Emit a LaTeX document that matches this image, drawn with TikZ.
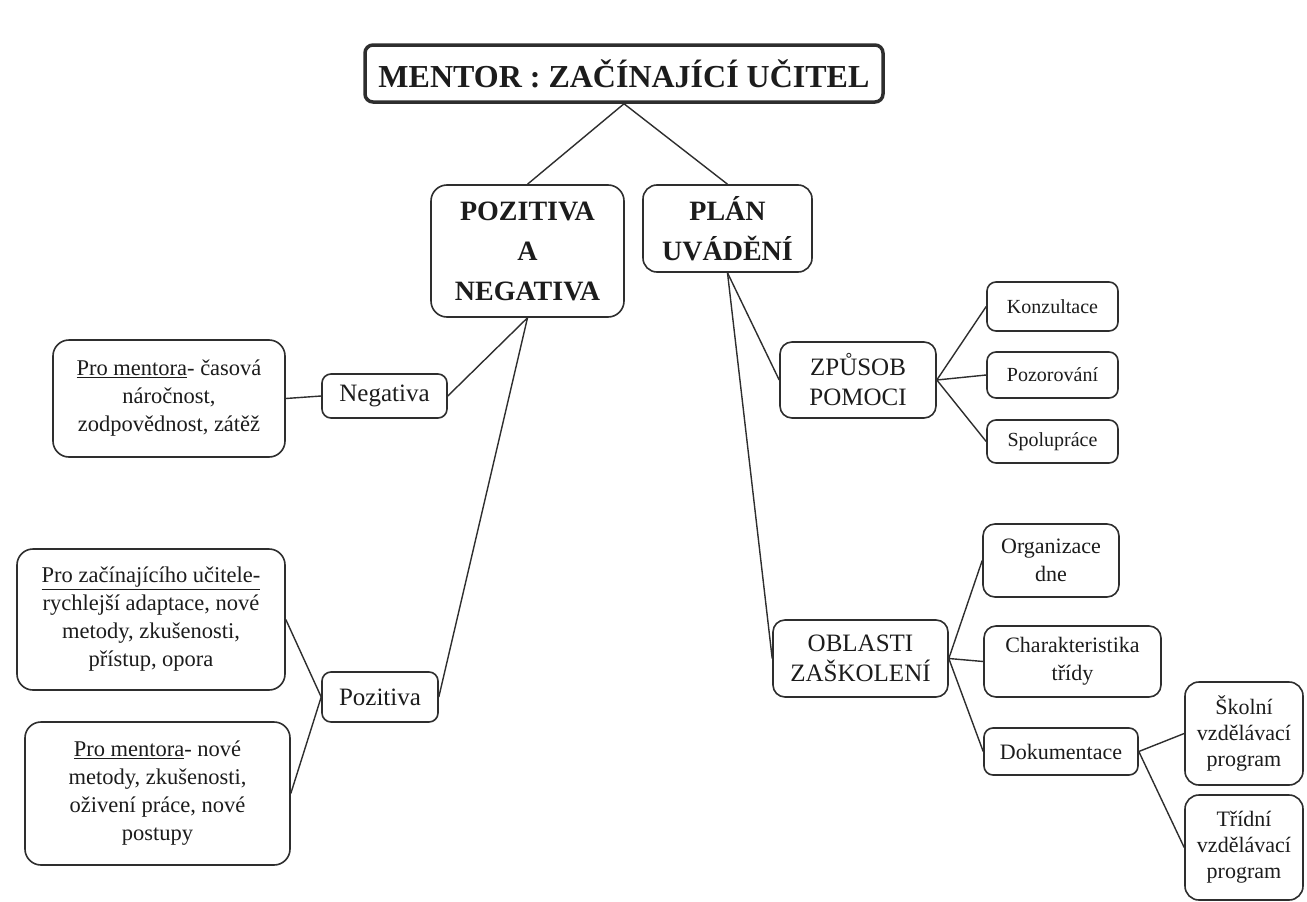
\documentclass[tikz,border=0pt]{standalone}
\usepackage{fontspec}
\setmainfont{Liberation Serif}
\definecolor{linec}{HTML}{2E2E2E}
\definecolor{textc}{HTML}{1C1C1C}
\begin{document}
\begin{tikzpicture}[x=1pt,y=-1pt,
  box/.style={draw=linec, line width=1.6pt, rounded corners=12pt, inner sep=0pt, align=center, text=textc},
  fs/.style 2 args={font=\fontsize{#1}{#2}\selectfont},
  fsb/.style 2 args={font=\fontsize{#1}{#2}\selectfont\bfseries},
  conn/.style={draw=linec, line width=1.4pt},
  sz/.style 2 args={minimum width=#1, minimum height=#2},
]
\useasboundingbox[fill=white] (0,0) rectangle (1307,902);

% top level
\node[box, line width=3.5pt, rounded corners=8pt, sz={518pt}{57pt}, fsb={32}{38}] (title) at (624,73.5) {MENTOR : ZAČÍNAJÍCÍ UČITEL};
\node[box, rounded corners=16pt, sz={193pt}{132pt}, fsb={28}{40}] (pn) at (527.5,251) {POZITIVA\\A\\NEGATIVA};
\node[box, rounded corners=14pt, sz={169pt}{87pt}, fsb={28}{40}] (plan) at (727.5,228.5) {PLÁN\\UVÁDĚNÍ};

% left branch
\node[box, sz={125pt}{44pt}, rounded corners=9pt, fs={25}{30}] (neg) at (384.5,396) {Negativa};
\node[box, sz={232pt}{117pt}, rounded corners=16pt, fs={22.5}{28}] (negbox) at (169,398.5) {\underline{Pro mentora}- časová\\náročnost,\\zodpovědnost, zátěž};
\node[box, sz={116pt}{50pt}, rounded corners=9pt, fs={25}{30}] (pos) at (380,697) {Pozitiva};
\node[box, sz={268pt}{141pt}, rounded corners=16pt, fs={22.5}{28}] (poszac) at (151,619.5) {\underline{Pro začínajícího učitele-}\\rychlejší adaptace, nové\\metody, zkušenosti,\\přístup, opora};
\node[box, sz={265pt}{143pt}, rounded corners=16pt, fs={22.5}{28}] (posment) at (157.5,793.5) {\underline{Pro mentora}- nové\\metody, zkušenosti,\\oživení práce, nové\\postupy};

% right branch: zpusob pomoci
\node[box, sz={156pt}{76pt}, fs={25}{30}] (zpusob) at (858,380) {ZPŮSOB\\POMOCI};
\node[box, sz={131pt}{49pt}, rounded corners=9pt, fs={20}{24}] (konz) at (1052.5,306.5) {Konzultace};
\node[box, sz={131pt}{46pt}, rounded corners=9pt, fs={20}{24}] (pozor) at (1052.5,375) {Pozorování};
\node[box, sz={131pt}{43pt}, rounded corners=9pt, fs={20}{24}] (spol) at (1052.5,441.5) {Spolupráce};

% right branch: oblasti zaskoleni
\node[box, sz={175pt}{77pt}, fs={25}{30}] (oblasti) at (860.5,658.5) {OBLASTI\\ZAŠKOLENÍ};
\node[box, sz={136pt}{73pt}, fs={22}{28}] (org) at (1051,560.5) {Organizace\\dne};
\node[box, sz={177pt}{71pt}, fs={22}{28}] (char) at (1072.5,661.5) {Charakteristika\\třídy};
\node[box, sz={154pt}{47pt}, rounded corners=9pt, fs={22}{28}] (dok) at (1061,751.5) {Dokumentace};
\node[box, sz={118pt}{103pt}, rounded corners=14pt, fs={22}{26}] (skol) at (1244,733.5) {Školní\\vzdělávací\\program};
\node[box, sz={118pt}{105pt}, rounded corners=14pt, fs={22}{26}] (trid) at (1244,847.5) {Třídní\\vzdělávací\\program};

% connectors
\draw[conn] (title.south) -- (pn.north);
\draw[conn] (title.south) -- (plan.north);
\draw[conn] (pn.south) -- (neg.east);
\draw[conn] (pn.south) -- (pos.east);
\draw[conn] (negbox.east) -- (neg.west);
\draw[conn] (pos.west) -- (poszac.east);
\draw[conn] (pos.west) -- (posment.east);
\draw[conn] (plan.south) -- (zpusob.west);
\draw[conn] (plan.south) -- (oblasti.west);
\draw[conn] (zpusob.east) -- (konz.west);
\draw[conn] (zpusob.east) -- (pozor.west);
\draw[conn] (zpusob.east) -- (spol.west);
\draw[conn] (oblasti.east) -- (org.west);
\draw[conn] (oblasti.east) -- (char.west);
\draw[conn] (oblasti.east) -- (dok.west);
\draw[conn] (dok.east) -- (skol.west);
\draw[conn] (dok.east) -- (trid.west);
\end{tikzpicture}
\end{document}
